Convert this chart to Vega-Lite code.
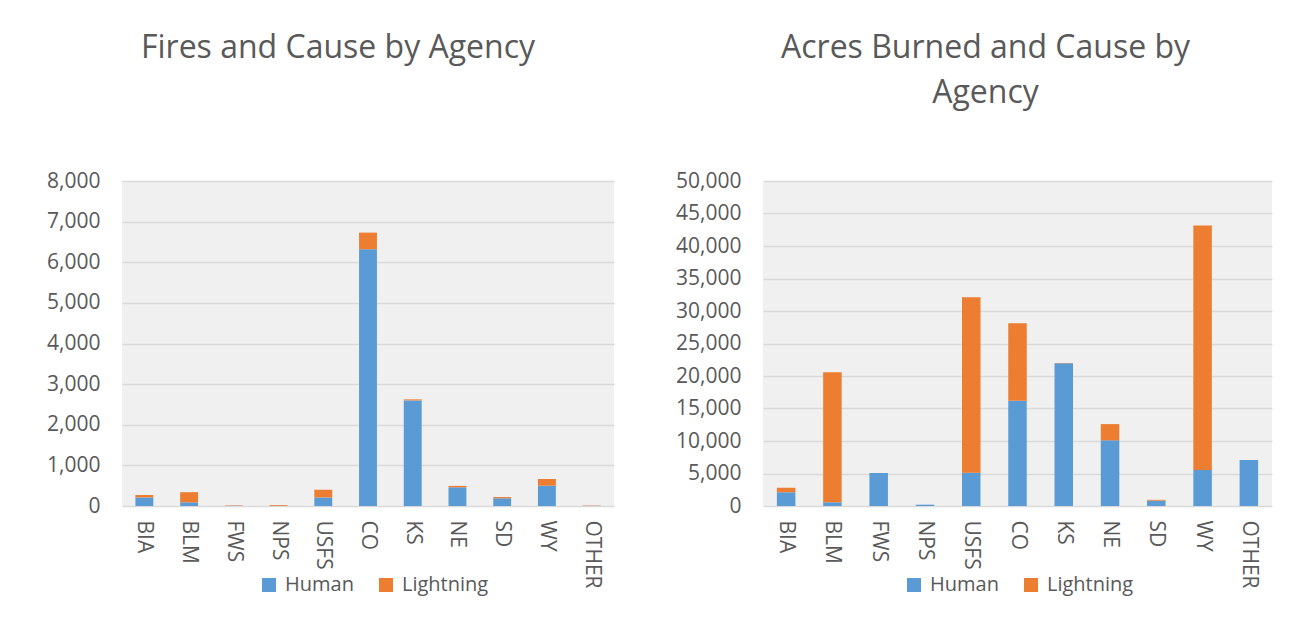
{
  "$schema": "https://vega.github.io/schema/vega-lite/v6.json",
  "background": "white",
  "padding": {"left": 46, "top": 32, "right": 26, "bottom": 24},
  "datasets": {
    "fires": [
      {"agency": "BIA", "cause": "Human", "value": 210},
      {"agency": "BIA", "cause": "Lightning", "value": 60},
      {"agency": "BLM", "cause": "Human", "value": 90},
      {"agency": "BLM", "cause": "Lightning", "value": 250},
      {"agency": "FWS", "cause": "Human", "value": 5},
      {"agency": "FWS", "cause": "Lightning", "value": 10},
      {"agency": "NPS", "cause": "Human", "value": 5},
      {"agency": "NPS", "cause": "Lightning", "value": 20},
      {"agency": "USFS", "cause": "Human", "value": 210},
      {"agency": "USFS", "cause": "Lightning", "value": 190},
      {"agency": "CO", "cause": "Human", "value": 6320},
      {"agency": "CO", "cause": "Lightning", "value": 410},
      {"agency": "KS", "cause": "Human", "value": 2600},
      {"agency": "KS", "cause": "Lightning", "value": 25},
      {"agency": "NE", "cause": "Human", "value": 460},
      {"agency": "NE", "cause": "Lightning", "value": 35},
      {"agency": "SD", "cause": "Human", "value": 190},
      {"agency": "SD", "cause": "Lightning", "value": 30},
      {"agency": "WY", "cause": "Human", "value": 500},
      {"agency": "WY", "cause": "Lightning", "value": 165},
      {"agency": "OTHER", "cause": "Human", "value": 5},
      {"agency": "OTHER", "cause": "Lightning", "value": 8}
    ],
    "acres": [
      {"agency": "BIA", "cause": "Human", "value": 2100},
      {"agency": "BIA", "cause": "Lightning", "value": 700},
      {"agency": "BLM", "cause": "Human", "value": 570},
      {"agency": "BLM", "cause": "Lightning", "value": 20000},
      {"agency": "FWS", "cause": "Human", "value": 5080},
      {"agency": "FWS", "cause": "Lightning", "value": 0},
      {"agency": "NPS", "cause": "Human", "value": 200},
      {"agency": "NPS", "cause": "Lightning", "value": 0},
      {"agency": "USFS", "cause": "Human", "value": 5130},
      {"agency": "USFS", "cause": "Lightning", "value": 27000},
      {"agency": "CO", "cause": "Human", "value": 16200},
      {"agency": "CO", "cause": "Lightning", "value": 11900},
      {"agency": "KS", "cause": "Human", "value": 21950},
      {"agency": "KS", "cause": "Lightning", "value": 50},
      {"agency": "NE", "cause": "Human", "value": 10100},
      {"agency": "NE", "cause": "Lightning", "value": 2500},
      {"agency": "SD", "cause": "Human", "value": 820},
      {"agency": "SD", "cause": "Lightning", "value": 130},
      {"agency": "WY", "cause": "Human", "value": 5540},
      {"agency": "WY", "cause": "Lightning", "value": 37600},
      {"agency": "OTHER", "cause": "Human", "value": 7080},
      {"agency": "OTHER", "cause": "Lightning", "value": 0}
    ]
  },
  "spacing": 61,
  "hconcat": [
    {
      "data": {"name": "fires"},
      "width": 492,
      "height": 325,
      "title": {"text": "Fires and Cause by Agency", "offset": 105, "dx": -30},
      "mark": {"type": "bar"},
      "encoding": {
        "x": {"field": "agency", "type": "nominal", "sort": ["BIA","BLM","FWS","NPS","USFS","CO","KS","NE","SD","WY","OTHER"], "scale": {"paddingInner": 0.6, "paddingOuter": 0.3}, "axis": {"title": null, "labelAngle": 90}},
        "y": {"field": "value", "type": "quantitative", "stack": "zero", "scale": {"domain": [0, 8000], "nice": false}, "axis": {"title": null, "values": [0,1000,2000,3000,4000,5000,6000,7000,8000], "format": ",.0f"}},
        "color": {"field": "cause", "type": "nominal", "scale": {"domain": ["Human","Lightning"], "range": ["#5B9BD5","#ED7D31"]}, "legend": {"title": null, "orient": "none", "direction": "horizontal", "legendX": 137, "legendY": 394}},
        "order": {"field": "cause", "sort": "ascending"}
      }
    },
    {
      "data": {"name": "acres"},
      "width": 509,
      "height": 325,
      "title": {"text": ["Acres Burned and Cause by", "Agency"], "offset": 60, "dx": -32},
      "mark": {"type": "bar"},
      "encoding": {
        "x": {"field": "agency", "type": "nominal", "sort": ["BIA","BLM","FWS","NPS","USFS","CO","KS","NE","SD","WY","OTHER"], "scale": {"paddingInner": 0.6, "paddingOuter": 0.3}, "axis": {"title": null, "labelAngle": 90}},
        "y": {"field": "value", "type": "quantitative", "stack": "zero", "scale": {"domain": [0, 50000], "nice": false}, "axis": {"title": null, "values": [0,5000,10000,15000,20000,25000,30000,35000,40000,45000,50000], "format": ",.0f"}},
        "color": {"field": "cause", "type": "nominal", "scale": {"domain": ["Human","Lightning"], "range": ["#5B9BD5","#ED7D31"]}, "legend": {"title": null, "orient": "none", "direction": "horizontal", "legendX": 141, "legendY": 394}},
        "order": {"field": "cause", "sort": "ascending"}
      }
    }
  ],
  "resolve": {"scale": {"color": "independent", "x": "independent", "y": "independent"}, "legend": {"color": "independent"}},
  "config": {
    "font": "Open Sans",
    "view": {"fill": "#f0f0f0", "stroke": null},
    "title": {"fontSize": 32, "fontWeight": "normal", "color": "#595959", "lineHeight": 45, "anchor": "middle"},
    "axis": {"labelFontSize": 21, "labelColor": "#595959", "ticks": false, "domain": false, "gridColor": "#d9d9d9", "gridWidth": 1.5, "labelFont": "Open Sans"},
    "axisX": {"grid": false, "labelPadding": 14},
    "axisY": {"labelPadding": 22},
    "legend": {"symbolType": "square", "symbolSize": 196, "labelFontSize": 20, "labelColor": "#595959", "columnPadding": 22, "labelOffset": 6, "symbolStrokeWidth": 0, "symbolOpacity": 1}
  }
}
